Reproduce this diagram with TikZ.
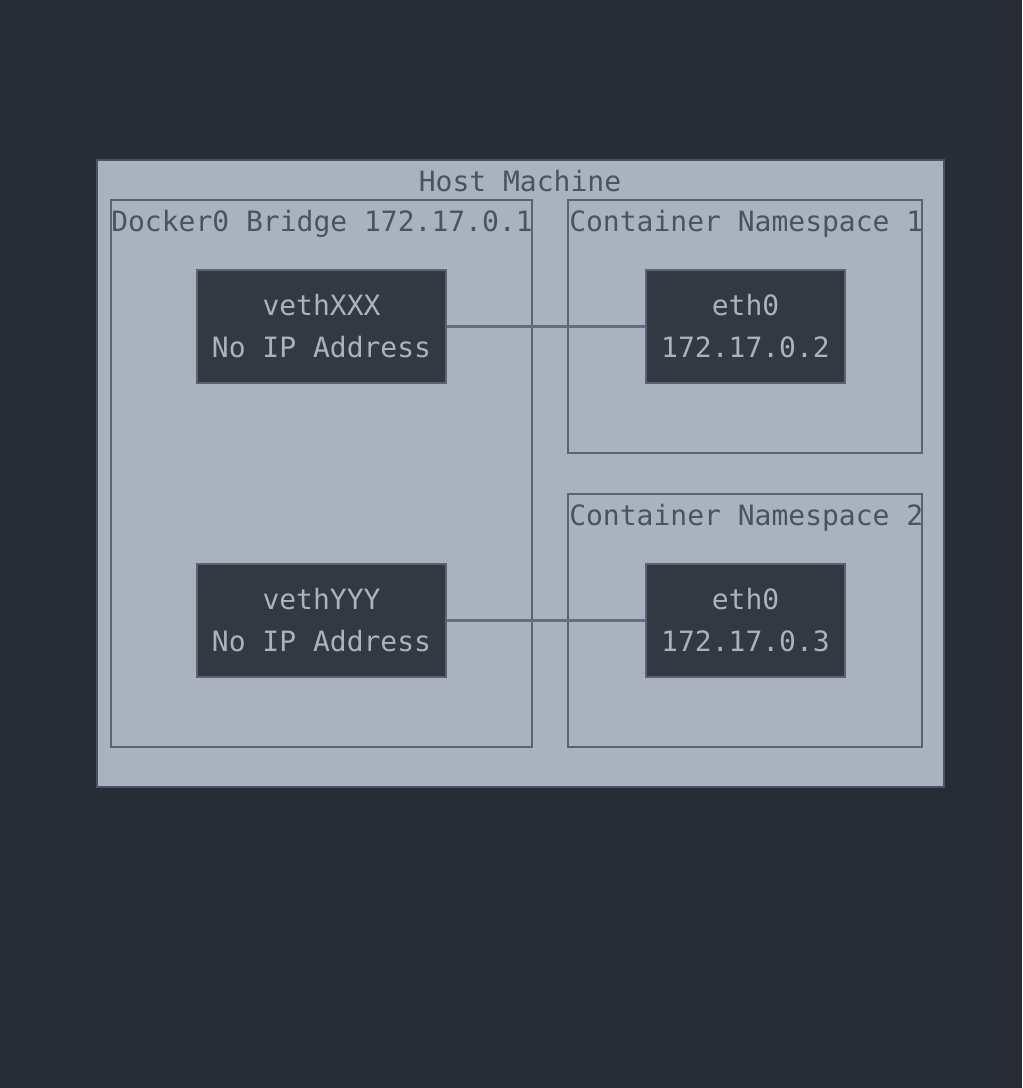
\documentclass[tikz,border=0pt]{standalone}
\usepackage{fontspec}
\setmainfont{DejaVu Sans Mono}
\definecolor{bg}{HTML}{282C34}
\definecolor{hostfill}{HTML}{ABB2BF}
\definecolor{hostline}{HTML}{4B5263}
\definecolor{grpline}{HTML}{5C6370}
\definecolor{lbl}{HTML}{4B5263}
\definecolor{nodefill}{HTML}{333842}
\definecolor{nodetext}{HTML}{ABB2BF}
\definecolor{wire}{HTML}{636D83}
\begin{document}
\begin{tikzpicture}[x=0.75pt,y=-0.75pt,
  font=\fontsize{21}{31.5}\selectfont,
  grp/.style={draw=grpline,line width=1.5pt},
  iface/.style={draw=grpline,fill=nodefill,text=nodetext,line width=1.5pt,
     minimum width=186.75pt,minimum height=84.75pt,align=center,inner sep=0pt},
  grplabel/.style={text=lbl,inner sep=0pt},
  wirestyle/.style={draw=wire,line width=2.25pt}]
\fill[bg] (0,0) rectangle (1022,1088);
\useasboundingbox (0,0) rectangle (1022,1088);
\draw[fill=hostfill,draw=hostline,line width=1.5pt] (97,160) rectangle (944,787);
\node[grplabel] (hostlbl) at (520,181) {Host Machine};
\draw[grp] (111,200) rectangle (532,747);
\node[grplabel,anchor=west] (dlbl) at (111,224) {Docker0 Bridge 172.17.0.1};
\draw[grp] (568,200) rectangle (922,453);
\node[grplabel,anchor=west] (n1lbl) at (569,224) {Container Namespace 1};
\draw[grp] (568,494) rectangle (922,747);
\node[grplabel,anchor=west] (n2lbl) at (569,518) {Container Namespace 2};
\node[iface] (vx) at (321.5,326.5) {vethXXX\\No IP Address};
\node[iface,minimum width=149.25pt] (e1) at (745.5,326.5) {eth0\\172.17.0.2};
\node[iface] (vy) at (321.5,620.5) {vethYYY\\No IP Address};
\node[iface,minimum width=149.25pt] (e2) at (745.5,620.5) {eth0\\172.17.0.3};
\draw[wirestyle] (vx.east) -- (e1.west);
\draw[wirestyle] (vy.east) -- (e2.west);
\end{tikzpicture}
\end{document}
